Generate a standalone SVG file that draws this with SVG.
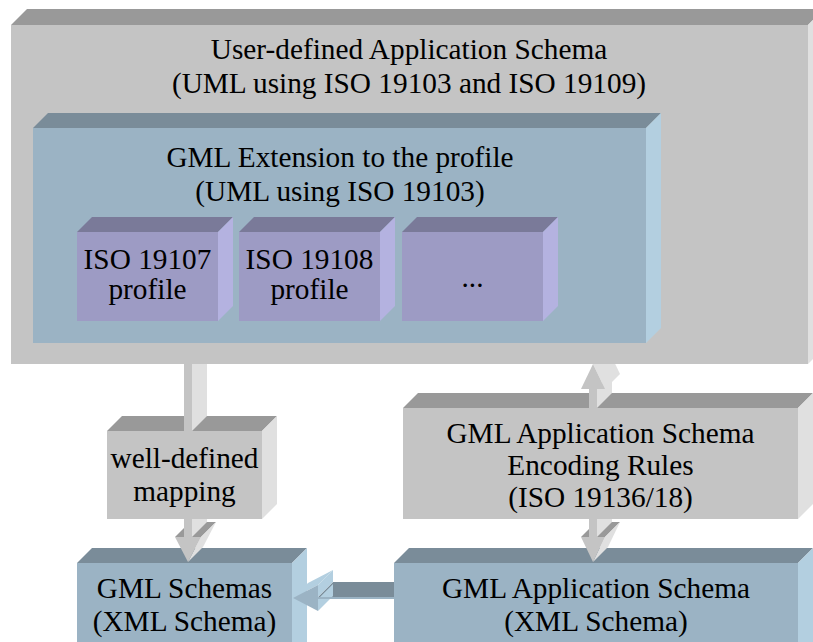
<svg xmlns="http://www.w3.org/2000/svg" width="813" height="642" viewBox="0 0 813 642">
<style>
.gt{fill:#999999}.gf{fill:#c4c4c4}.gr{fill:#e0e0e0}
.bt{fill:#7a8c99}.bf{fill:#9bb3c4}.br{fill:#b3cfe0}
.pt{fill:#7a7a99}.pf{fill:#9d9bc4}.pr{fill:#b4b2e0}
text{font-family:"Liberation Serif","Times New Roman",serif;font-size:29.3px;fill:#000;text-anchor:middle}
</style>
<rect width="813" height="642" fill="#fff"/>
<g id="user-schema">
<polygon class="gt" points="11,25 27,9 824,9 808,25"/>
<polygon class="gr" points="808,25 824,9 824,348 808,364"/>
<rect class="gf" x="11" y="25" width="797" height="339"/>
<text x="409" y="59">User-defined Application Schema</text>
<text x="409" y="93">(UML using ISO 19103 and ISO 19109)</text>
</g>
<g id="gml-extension">
<polygon class="bt" points="33,128 48,113 661,113 646,128"/>
<polygon class="br" points="646,128 661,113 661,328 646,343"/>
<rect class="bf" x="33" y="128" width="613" height="215"/>
<text x="340" y="167">GML Extension to the profile</text>
<text x="340" y="201">(UML using ISO 19103)</text>
</g>
<g id="iso19107">
<polygon class="pt" points="77,232 92,217 233,217 218,232"/>
<polygon class="pr" points="218,232 233,217 233,306 218,321"/>
<rect class="pf" x="77" y="232" width="141" height="89"/>
<text x="147.5" y="269">ISO 19107</text>
<text x="147.5" y="299">profile</text>
</g>
<g id="iso19108">
<polygon class="pt" points="239,232 254,217 395,217 380,232"/>
<polygon class="pr" points="380,232 395,217 395,306 380,321"/>
<rect class="pf" x="239" y="232" width="141" height="89"/>
<text x="309.5" y="269">ISO 19108</text>
<text x="309.5" y="299">profile</text>
</g>
<g id="more">
<polygon class="pt" points="402,232 417,217 558,217 543,232"/>
<polygon class="pr" points="543,232 558,217 558,306 543,321"/>
<rect class="pf" x="402" y="232" width="141" height="89"/>
<text x="472.5" y="287">...</text>
</g>
<g id="mapping">
<polygon class="gt" points="107,431 122,416 277,416 262,431"/>
<polygon class="gr" points="262,431 277,416 277,504 262,519"/>
<rect class="gf" x="107" y="431" width="155" height="88"/>
<text x="184.5" y="468">well-defined</text>
<text x="184.5" y="501">mapping</text>
</g>
<g id="encoding-rules">
<polygon class="gt" points="403,408 418,393 813,393 798,408"/>
<polygon class="gr" points="798,408 813,393 813,504 798,519"/>
<rect class="gf" x="403" y="408" width="395" height="111"/>
<text x="600.5" y="443">GML Application Schema</text>
<text x="600.5" y="475">Encoding Rules</text>
<text x="600.5" y="507">(ISO 19136/18)</text>
</g>
<g id="gml-schemas">
<polygon class="bt" points="77,563 92,548 307,548 292,563"/>
<polygon class="br" points="292,563 307,548 307,642 292,642"/>
<rect class="bf" x="77" y="563" width="215" height="79"/>
<text x="184.5" y="598">GML Schemas</text>
<text x="184.5" y="631">(XML Schema)</text>
</g>
<g id="gml-app-schema">
<polygon class="bt" points="394,563 409,548 813,548 798,563"/>
<polygon class="br" points="798,563 813,548 813,642 798,642"/>
<rect class="bf" x="394" y="563" width="404" height="79"/>
<text x="596" y="598">GML Application Schema</text>
<text x="596" y="631">(XML Schema)</text>
</g>
<g id="connectors">
<rect class="gf" x="184" y="364" width="8" height="67"/>
<polygon class="gr" points="192,364 207,364 207,416 192,431"/>
<polygon class="gt" points="175,537 201,537 216,522 190,522"/>
<polygon class="gr" points="201,537 188,562 203,547 216,522"/>
<polygon class="gr" points="192,519 207,519 207,522 192,537"/>
<rect class="gf" x="184" y="519" width="8" height="18"/>
<polygon class="gf" points="175,537 201,537 188,562"/>
<polygon class="gr" points="597,389 612,374 612,393 597,408"/>
<rect class="gf" x="589" y="389" width="8" height="19"/>
<polygon class="gr" points="605,389 593,364 615.2,364 620,374"/>
<polygon class="gf" points="581,389 605,389 593,364"/>
<polygon class="gt" points="581,537 605,537 620,522 596,522"/>
<polygon class="gr" points="605,537 593,562 608,547 620,522"/>
<polygon class="gr" points="597,519 612,519 612,522 597,537"/>
<rect class="gf" x="589" y="519" width="8" height="18"/>
<polygon class="gf" points="581,537 605,537 593,562"/>
<polygon class="bt" points="318,597 394,597 394,582 333,582"/>
<polygon class="br" points="293,598 318,585 333,570 308,583"/>
<polygon class="br" points="318,585 318,597 333,582 333,570"/>
<polygon class="br" points="318,599 318,611 333,596 333,584"/>
<rect class="bf" x="318" y="597" width="76" height="2"/>
<polygon class="bf" points="293,598 318,585 318,611"/>
</g>
</svg>
